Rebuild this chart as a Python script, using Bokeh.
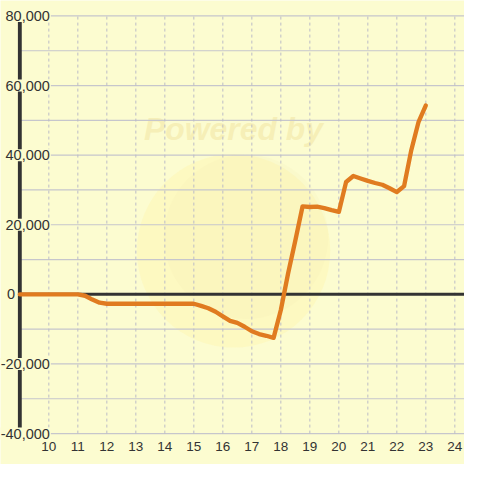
from bokeh.plotting import figure
from bokeh.models import ColumnDataSource
from bokeh.core.properties import value
from bokeh.embed import file_html
from bokeh.resources import INLINE

# ---- data ----
hours = [9.0, 11.0, 11.25, 11.5, 11.75, 12.0, 15.0, 15.25, 15.5, 15.75, 16.0,
         16.25, 16.5, 16.75, 17.0, 17.25, 17.5, 17.75, 18.0, 18.25, 18.5,
         18.75, 19.0, 19.25, 19.5, 19.75, 20.0, 20.25, 20.5, 20.75, 21.0,
         21.25, 21.5, 21.75, 22.0, 22.25, 22.5, 22.75, 23.0]
profit = [0, 0, -400, -1500, -2400, -2700, -2700, -3300, -4000, -5000, -6300,
          -7600, -8200, -9300, -10600, -11400, -11900, -12500, -4500, 6000, 15500,
          25300, 25100, 25200, 24800, 24200, 23700, 32300, 34000, 33300, 32600,
          32000, 31500, 30500, 29400, 31100, 41500, 49600, 54300]
x_ticks = list(range(10, 25))
y_ticks = [-40000, -20000, 0, 20000, 40000, 60000, 80000]
y_minor = [-30000, -10000, 10000, 30000, 50000, 70000]
y_tick_labels = ["-40,000", "-20,000", "0", "20,000", "40,000", "60,000", "80,000"]
watermark_text = "Powered by"

BG = "#fcfcd0"
S = 464 / 480.0

p = figure(width=464, height=464, output_backend="svg", toolbar_location=None,
           x_range=(8.3333, 24.3333), y_range=(-48889, 84444),
           min_border=0, background_fill_color=BG, border_fill_color=BG,
           outline_line_color=None)
p.xaxis.visible = False
p.yaxis.visible = False
p.grid.visible = False

X_AXIS = 9.0
X_RIGHT = 24.3333

# watermark
p.scatter(x=[16.37], y=[12500], size=200 * S, marker="circle",
          fill_color="#fdf6b8", fill_alpha=0.6, line_color=None)
p.scatter(x=[16.8], y=[16500], size=170 * S, marker="circle",
          fill_color="#efe3ae", fill_alpha=0.12, line_color=None)
p.text(x=[16.37], y=[47500], text=[watermark_text], text_align="center",
       text_baseline="middle", text_font=value("Liberation Sans"),
       text_font_size=f"{33*S:.1f}px", text_font_style="bold italic",
       text_color="#f5ecb0", text_alpha=0.8)

# horizontal gridlines
all_y = sorted(y_ticks + y_minor)
p.segment(x0=[X_AXIS] * len(all_y), y0=all_y, x1=[X_RIGHT] * len(all_y), y1=all_y,
          line_color="#c6c6cc", line_width=1.2)
# vertical dotted gridlines
p.segment(x0=x_ticks, y0=[y_ticks[0]] * len(x_ticks), x1=x_ticks, y1=[y_ticks[-1]] * len(x_ticks),
          line_color="#bcbcc6", line_width=1, line_dash="3 3")

# zero line
p.segment(x0=[X_AXIS], y0=[0], x1=[X_RIGHT], y1=[0], line_color="#333333", line_width=3)
# y axis line
p.segment(x0=[X_AXIS], y0=[y_ticks[0]], x1=[X_AXIS], y1=[y_ticks[-1]],
          line_color="#333333", line_width=4 * S)

# the series
p.line(x=hours, y=profit, line_color="#e07b20", line_width=4.5 * S,
       line_join="round", line_cap="round")

# y labels
lab_x = [8.87 if t == "0" else 10.07 for t in y_tick_labels]
ysrc = ColumnDataSource(dict(x=lab_x, y=y_ticks, t=y_tick_labels))
p.text(x="x", y="y", text="t", source=ysrc, text_align="right", text_baseline="middle",
       text_font=value("Liberation Sans"), text_font_size=f"{15*S:.1f}px",
       text_color="#333333", background_fill_color=BG, padding=1)

# x labels
xsrc = ColumnDataSource(dict(x=x_ticks, y=[-43700] * len(x_ticks), t=[str(v) for v in x_ticks]))
p.text(x="x", y="y", text="t", source=xsrc, text_align="center", text_baseline="middle",
       text_font=value("Liberation Sans"), text_font_size=f"{14*S:.1f}px",
       text_color="#333333")

open("out.html", "w").write(file_html(p, INLINE))
